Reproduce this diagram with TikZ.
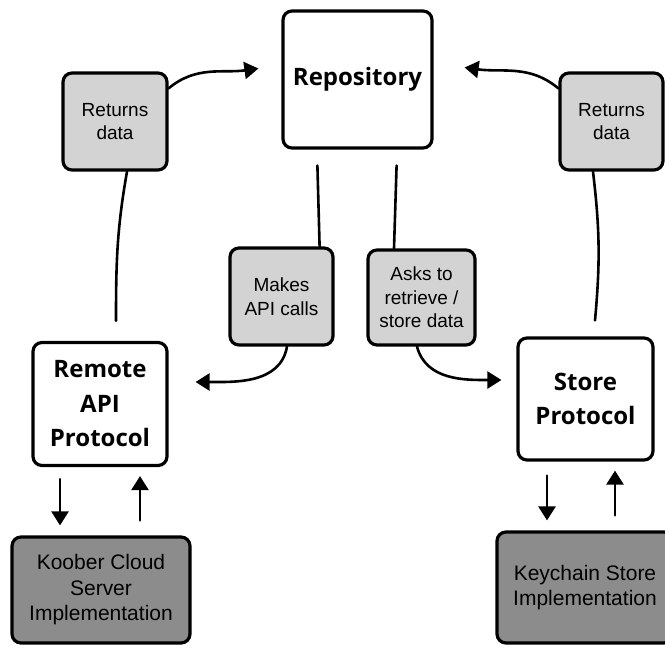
\documentclass[tikz,border=0pt]{standalone}
\usepackage{fontspec}
\setmainfont{Liberation Sans}
\newfontfamily\headfont{Open Sans}
\usetikzlibrary{arrows.meta}
\definecolor{notegray}{RGB}{211,211,211}
\definecolor{implgray}{RGB}{140,140,140}

\begin{document}
\begin{tikzpicture}[x=1pt,y=-1pt]
						\tikzset{
							box base/.style={draw,line width=3.2pt,rounded corners=9pt,align=center,inner sep=0pt},
							main box/.style={box base,fill=white,font=\headfont\bfseries\fontsize{24}{34.5}\selectfont},
							note box/.style={box base,fill=notegray,font=\fontsize{19}{23.5}\selectfont},
							impl box/.style={box base,fill=implgray,font=\fontsize{21}{25.5}\selectfont},
							link/.style={line width=2.6pt,line cap=round},
							flow/.style={link,-{Triangle[width=17pt,length=14pt]}}
						}
						\useasboundingbox (0,0) rectangle (665,646);
						\node [main box,minimum width=149pt,minimum height=137pt] (repo)		at (357.5,79.5)		{Repository};
						\node [note box,minimum width=104pt,minimum height=97pt]  (retL)		at (115,121.5)		{Returns\\data};
						\node [note box,minimum width=103pt,minimum height=97pt]  (retR)		at (611.5,121.5)	{Returns\\data};
						\node [note box,minimum width=103pt,minimum height=97pt]  (calls)		at (281.5,296.5)	{Makes\\API calls};
						\node [note box,minimum width=107pt,minimum height=95pt]  (asks)		at (421.5,297.5)	{Asks to\\retrieve /\\store data};
						\node [main box,minimum width=134pt,minimum height=123pt] (remote)		at (100,404)		{Remote\\API\\Protocol};
						\node [main box,minimum width=135pt,minimum height=122pt] (store)		at (585.5,399)		{Store\\Protocol};
						\node [impl box,minimum width=178pt,minimum height=106pt] (koober)		at (101,590)		{Koober Cloud\\Server\\Implementation};
						\node [impl box,minimum width=176pt,minimum height=111pt] (keychain)	at (585,587.5)		{Keychain Store\\Implementation};

						\draw [link] ([xshift=16pt,yshift=20pt]remote.north) to[out=90,in=-100] ([xshift=12pt]retL.south);
						\draw [flow] ([yshift=-17pt]retL.north east) to[out=40,in=188] ([xshift=-23pt,yshift=11pt]repo.west);
						\draw [link] ([xshift=9.5pt,yshift=16pt]store.north) to[bend right=6] ([xshift=-18.5pt]retR.south);
						\draw [flow] ([yshift=-17pt]retR.north west) to[out=140,in=-8] ([xshift=31pt,yshift=12pt]repo.east);
						\draw [link] ([xshift=36pt,yshift=-16pt]repo.south west) -- ([xshift=-15pt]calls.north east);
						\draw [flow] ([xshift=5.5pt]calls.south) to[out=-100,in=0] ([xshift=27pt,yshift=22pt]remote.east);
						\draw [link] ([xshift=-37pt,yshift=-16pt]repo.south east) -- ([xshift=-27.5pt]asks.north);
						\draw [flow] ([xshift=-4.5pt]asks.south) to[out=-75,in=180] ([xshift=-15pt,yshift=19pt]store.west);
						\draw [flow] ([xshift=-40pt,yshift=-12pt]remote.south) -- ([xshift=-41pt,yshift=10pt]koober.north);
						\draw [flow] ([xshift=39pt,yshift=15pt]koober.north) -- ([xshift=40pt,yshift=-9pt]remote.south);
						\draw [flow] ([xshift=-38.5pt,yshift=-14pt]store.south) -- ([xshift=-38pt,yshift=10pt]keychain.north);
						\draw [flow] ([xshift=30pt,yshift=15pt]keychain.north) -- ([xshift=29.5pt,yshift=-9pt]store.south);
					\end{tikzpicture}
\end{document}
